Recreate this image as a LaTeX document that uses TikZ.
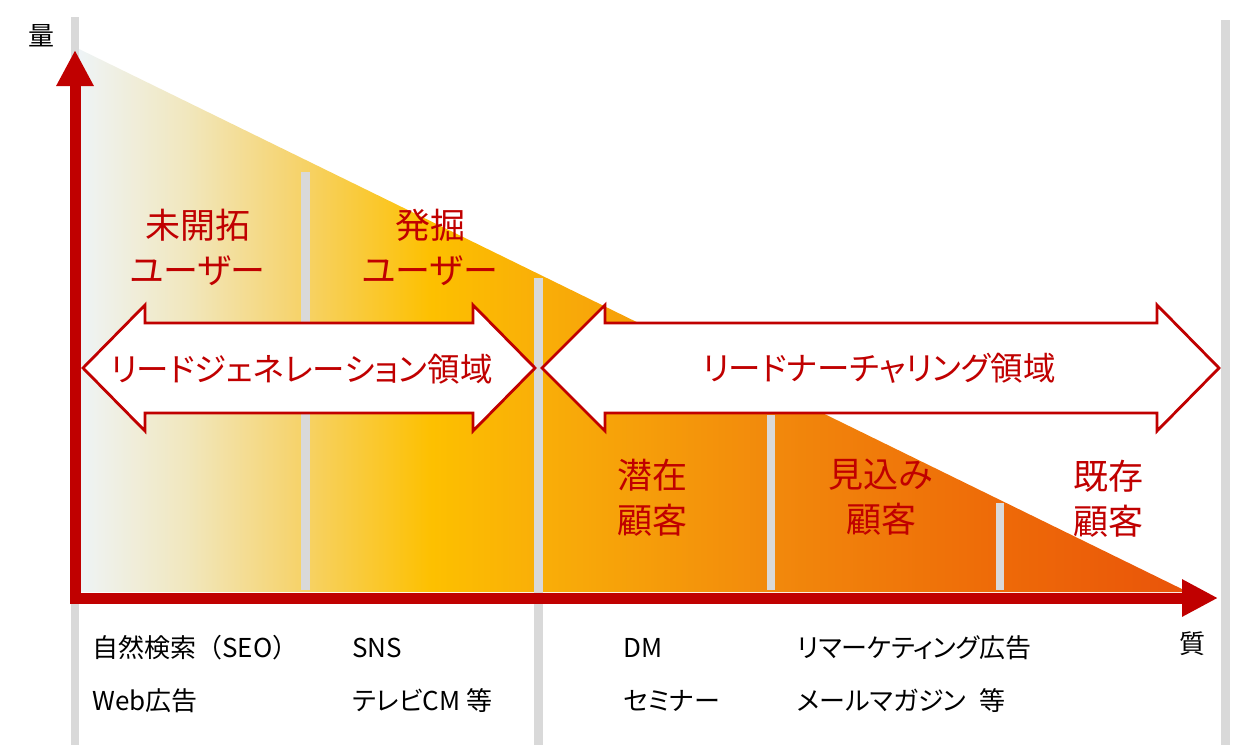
\documentclass[tikz,border=0pt]{standalone}
\usepackage{fontspec}
\setmainfont{Noto Sans CJK JP}[RawFeature=+palt]
\newfontfamily\fullwidthfont{Noto Sans CJK JP}
\usetikzlibrary{arrows.meta}
\definecolor{axred}{HTML}{C00000}
\definecolor{bargray}{HTML}{D9D9D9}
\definecolor{g0}{HTML}{EEF4F8}
\definecolor{g1}{HTML}{F1E7BE}
\definecolor{g2}{HTML}{F6D36C}
\definecolor{g3}{HTML}{FDC000}
\definecolor{g4}{HTML}{F9AE08}
\definecolor{g5}{HTML}{F28A0C}
\definecolor{g6}{HTML}{EE6A08}
\definecolor{g7}{HTML}{E9540A}
\pgfdeclarehorizontalshading{funnelshade}{100bp}{color(0bp)=(g0); color(25bp)=(g0); color(30bp)=(g1); color(35bp)=(g2); color(41bp)=(g3); color(46bp)=(g4); color(56bp)=(g5); color(66.5bp)=(g6); color(75bp)=(g7); color(100bp)=(g7)}
\tikzset{
  grayline/.style={draw=bargray, line width=8.5pt},
  axisarrow/.style={draw=axred, line width=11pt, line cap=rect, -{Triangle[length=36pt,width=35pt]}},
  regionarrow/.style={draw=axred, fill=white, line width=2.8pt, line join=miter},
  regiontext/.style={text=axred, inner sep=0pt, font=\fontsize{32.5pt}{40pt}\selectfont},
  redlabel/.style={text=axred, inner sep=0pt, align=center, font=\fontsize{35pt}{45pt}\selectfont},
  blacklabel/.style={text=black, inner sep=0pt, anchor=west, font=\fontsize{26pt}{30pt}\selectfont},
  axislabel/.style={text=black, inner sep=0pt, font=\fontsize{26pt}{30pt}\selectfont}
}
\begin{document}
\begin{tikzpicture}[x=1pt,y=-1pt]
\useasboundingbox (0,0) rectangle (1258,750);
% funnel triangle
\shade[shading=funnelshade] (75,47) -- (1188,592) -- (75,592) -- cycle;
% gray separators
\draw[grayline] (75,17) -- (75,745);
\draw[grayline] (1225.5,20) -- (1225.5,745);
\draw[grayline] (305.5,172) -- (305.5,590);
\draw[grayline] (538.5,278) -- (538.5,745);
\draw[grayline] (771,415) -- (771,590);
\draw[grayline] (1000,503) -- (1000,590);
% axes
\coordinate (O) at (75,598);
\coordinate (ytip) at (75,50);
\coordinate (xtip) at (1218,598);
\draw[axisarrow] (O) -- (ytip);
\draw[axisarrow] (O) -- (xtip);
% region double arrows
\draw[regionarrow] (83,368) -- (145,305) -- (145,323) -- (473,323) -- (473,305) -- (535,368)
  -- (473,431) -- (473,413) -- (145,413) -- (145,431) -- cycle;
\draw[regionarrow] (542,368) -- (605,305) -- (605,323) -- (1157,323) -- (1157,305) -- (1219,368)
  -- (1157,431) -- (1157,413) -- (605,413) -- (605,431) -- cycle;
\node[regiontext] (leadgen) at (301.5,369) {リードジェネレーション領域};
\node[regiontext] (leadnur) at (879,368) {リードナーチャリング領域};
% red labels
\node[redlabel] (mikai) at (197.5,247.5) {未開拓\\ユーザー};
\node[redlabel] (hakkutsu) at (430,247.5) {発掘\\ユーザー};
\node[redlabel] (senzai) at (652,497.5) {潜在\\顧客};
\node[redlabel] (mikomi) at (881,497.5) {見込み\\顧客};
\node[redlabel] (kizon) at (1108,498.5) {既存\\顧客};
% axis labels
\node[axislabel] (ryo) at (41.5,36) {量};
\node[axislabel] (shitsu) at (1192,644) {質};
% bottom texts
\node[blacklabel] (t1) at (92,648) {自然検索{\fullwidthfont （}SEO{\fullwidthfont ）}};
\node[blacklabel] (t2) at (92,701) {Web広告};
\node[blacklabel] (t3) at (352,648) {SNS};
\node[blacklabel] (t4) at (352,701) {テレビCM 等};
\node[blacklabel] (t5) at (623,648) {DM};
\node[blacklabel] (t6) at (623,701) {セミナー};
\node[blacklabel] (t7) at (797,648) {リマーケティング広告};
\node[blacklabel] (t8) at (797,701) {メールマガジン\hspace{0.5em}等};
\end{tikzpicture}
\end{document}
